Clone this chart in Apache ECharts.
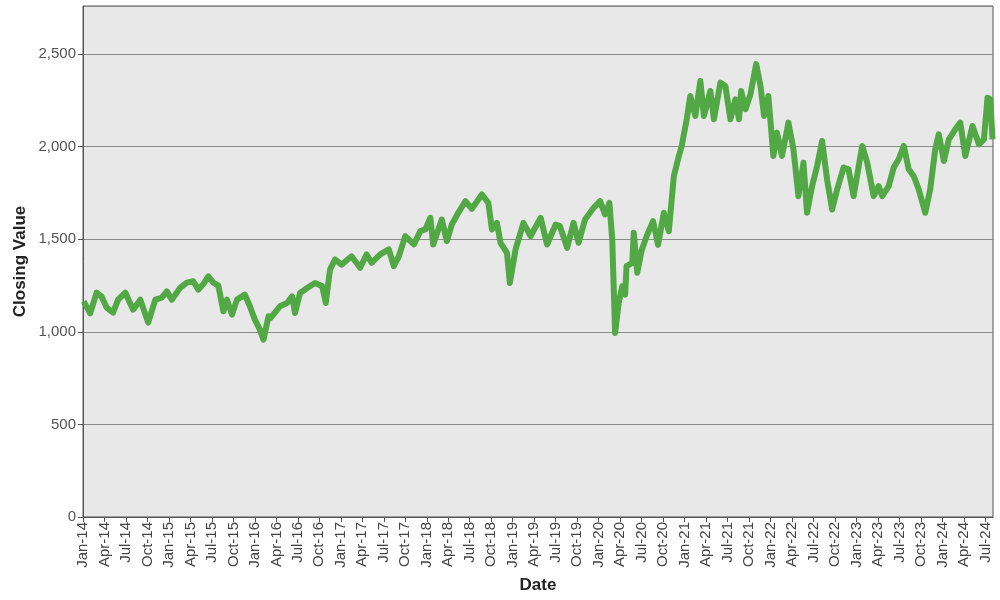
<!DOCTYPE html>
<html>
<head>
<meta charset="utf-8">
<script src="https://cdn.jsdelivr.net/npm/echarts@6/dist/echarts.min.js"></script>
<style>html,body{margin:0;padding:0;background:#fff}#c{width:1000px;height:600px}</style>
</head>
<body>
<div id="c"></div>
<script>
var dates = [
'2014-01-04','2014-02-01','2014-02-28','2014-03-19','2014-04-10','2014-05-07','2014-05-28','2014-06-28','2014-08-01','2014-09-01',
'2014-10-04','2014-11-04','2014-12-01','2014-12-22','2015-01-13','2015-02-19','2015-03-16','2015-04-13','2015-05-04','2015-05-25',
'2015-06-16','2015-07-07','2015-07-28','2015-08-19','2015-09-04','2015-09-25','2015-10-16','2015-11-19','2015-12-10','2016-01-01',
'2016-01-22','2016-02-07','2016-02-28','2016-03-07','2016-04-16','2016-05-16','2016-06-07','2016-06-19','2016-07-10','2016-08-10',
'2016-09-13','2016-10-13','2016-10-28','2016-11-16','2016-12-07','2017-01-04','2017-02-16','2017-03-22','2017-04-19','2017-05-10',
'2017-06-16','2017-07-22','2017-08-13','2017-09-04','2017-10-01','2017-11-07','2017-12-04','2017-12-25','2018-01-16','2018-01-28',
'2018-03-04','2018-03-25','2018-04-16','2018-05-13','2018-06-13','2018-07-10','2018-08-22','2018-09-19','2018-10-04','2018-10-25',
'2018-11-10','2018-12-07','2018-12-19','2019-01-13','2019-02-16','2019-03-16','2019-04-28','2019-05-25','2019-07-01','2019-07-19',
'2019-08-19','2019-09-16','2019-10-07','2019-11-04','2019-12-10','2020-01-07','2020-01-28','2020-02-16','2020-02-28','2020-03-10',
'2020-03-25','2020-04-10','2020-04-22','2020-04-28','2020-05-22','2020-05-28','2020-06-13','2020-07-01','2020-07-22','2020-08-19',
'2020-09-10','2020-10-04','2020-10-25','2020-11-16','2020-12-07','2020-12-19','2021-01-10','2021-01-25','2021-02-16','2021-03-07',
'2021-03-22','2021-04-19','2021-05-04','2021-06-01','2021-06-22','2021-07-13','2021-08-04','2021-08-19','2021-08-28','2021-09-16',
'2021-10-07','2021-11-01','2021-11-19','2021-12-04','2021-12-22','2022-01-13','2022-01-28','2022-02-19','2022-03-16','2022-04-07',
'2022-04-28','2022-05-19','2022-06-04','2022-06-25','2022-07-16','2022-08-07','2022-08-28','2022-09-19','2022-10-10','2022-11-07',
'2022-11-28','2022-12-19','2023-01-25','2023-02-16','2023-03-13','2023-04-04','2023-04-19','2023-05-16','2023-06-07','2023-06-28',
'2023-07-19','2023-08-10','2023-09-01','2023-09-22','2023-10-19','2023-11-10','2023-12-01','2023-12-16','2024-01-07','2024-01-28',
'2024-02-25','2024-03-16','2024-04-07','2024-05-07','2024-06-04','2024-06-25','2024-07-10','2024-07-22','2024-08-01'
];
var closingValues = [
1165,1100,1212,1190,1131,1104,1174,1212,1120,1174,
1050,1174,1185,1219,1174,1239,1266,1273,1228,1258,
1300,1266,1250,1111,1174,1093,1174,1201,1138,1066,
1012,958,1084,1075,1138,1156,1192,1102,1210,1237,
1264,1246,1156,1337,1391,1363,1408,1346,1418,1373,
1418,1445,1355,1408,1517,1472,1544,1553,1616,1472,
1607,1490,1580,1643,1706,1665,1742,1697,1553,1589,
1481,1427,1264,1445,1589,1517,1616,1472,1580,1571,
1454,1589,1481,1607,1670,1706,1634,1697,1499,994,
1156,1246,1201,1355,1373,1535,1319,1440,1517,1598,
1470,1643,1544,1841,1950,2004,2148,2274,2166,2355,
2166,2301,2148,2346,2328,2148,2256,2148,2301,2202,
2283,2446,2328,2166,2274,1950,2076,1950,2130,1986,
1733,1914,1643,1787,1895,2031,1823,1661,1769,1887,
1878,1733,2004,1914,1733,1787,1733,1787,1887,1932,
2004,1878,1841,1769,1643,1769,1986,2067,1923,2040,
2094,2130,1950,2112,2013,2040,2265,2256,2040
];
var monthNames = ['Jan','Feb','Mar','Apr','May','Jun','Jul','Aug','Sep','Oct','Nov','Dec'];
var startYear = 2014;
var xEndDate = '2024-08-03';
var yTickStep = 500;

function toMonths(s) {
  var p = s.split('-');
  return (parseInt(p[0], 10) - startYear) * 12 + (parseInt(p[1], 10) - 1) + (parseInt(p[2], 10) - 1) / 30;
}
var seriesData = dates.map(function (d, i) { return [toMonths(d), closingValues[i]]; });

var chart = echarts.init(document.getElementById('c'));
var font = '"Liberation Sans", Arial, sans-serif';
chart.setOption({
  animation: false,
  grid: {
    left: 83, right: 7, top: 6, bottom: 83,
    containLabel: false, outerBoundsMode: 'none',
    show: true, backgroundColor: '#e8e8e8', borderColor: '#555', borderWidth: 1
  },
  xAxis: {
    type: 'value', min: 0, max: toMonths(xEndDate), interval: 3,
    name: 'Date', nameLocation: 'middle', nameGap: 60,
    nameTextStyle: { fontFamily: font, fontWeight: 'bold', fontSize: 17, color: '#222' },
    axisLine: { show: true, lineStyle: { color: '#555' } },
    axisTick: { show: true, length: 5, lineStyle: { color: '#555' } },
    splitLine: { show: false },
    axisLabel: {
      rotate: 90, fontFamily: font, fontSize: 15, color: '#444', margin: 5,
      showMaxLabel: false,
      formatter: function (v) {
        var m = Math.round(v);
        if (Math.abs(v - m) > 1e-6 || m % 3 !== 0) return '';
        var y = startYear + Math.floor(m / 12);
        return monthNames[m % 12] + '-' + String(y).slice(2);
      }
    }
  },
  yAxis: {
    type: 'value', min: 0, max: 2760, interval: yTickStep,
    name: 'Closing Value', nameLocation: 'middle', nameGap: 54, nameMoveOverlap: false,
    nameTextStyle: { fontFamily: font, fontWeight: 'bold', fontSize: 17, color: '#222' },
    axisLine: { show: true, lineStyle: { color: '#555' } },
    axisTick: { show: true, length: 5, lineStyle: { color: '#555' } },
    splitLine: { show: true, lineStyle: { color: '#8a8a8a', width: 1 } },
    axisLabel: {
      fontFamily: font, fontSize: 15, color: '#555', margin: 7,
      showMaxLabel: false,
      formatter: function (v) {
        if (v % yTickStep !== 0) return '';
        return v.toLocaleString('en-US');
      }
    }
  },
  series: [{
    type: 'line', data: seriesData, showSymbol: false, symbol: 'none',
    lineStyle: { color: '#52a844', width: 6, join: 'round' },
    itemStyle: { color: '#52a844' }
  }]
});
</script>
</body>
</html>
